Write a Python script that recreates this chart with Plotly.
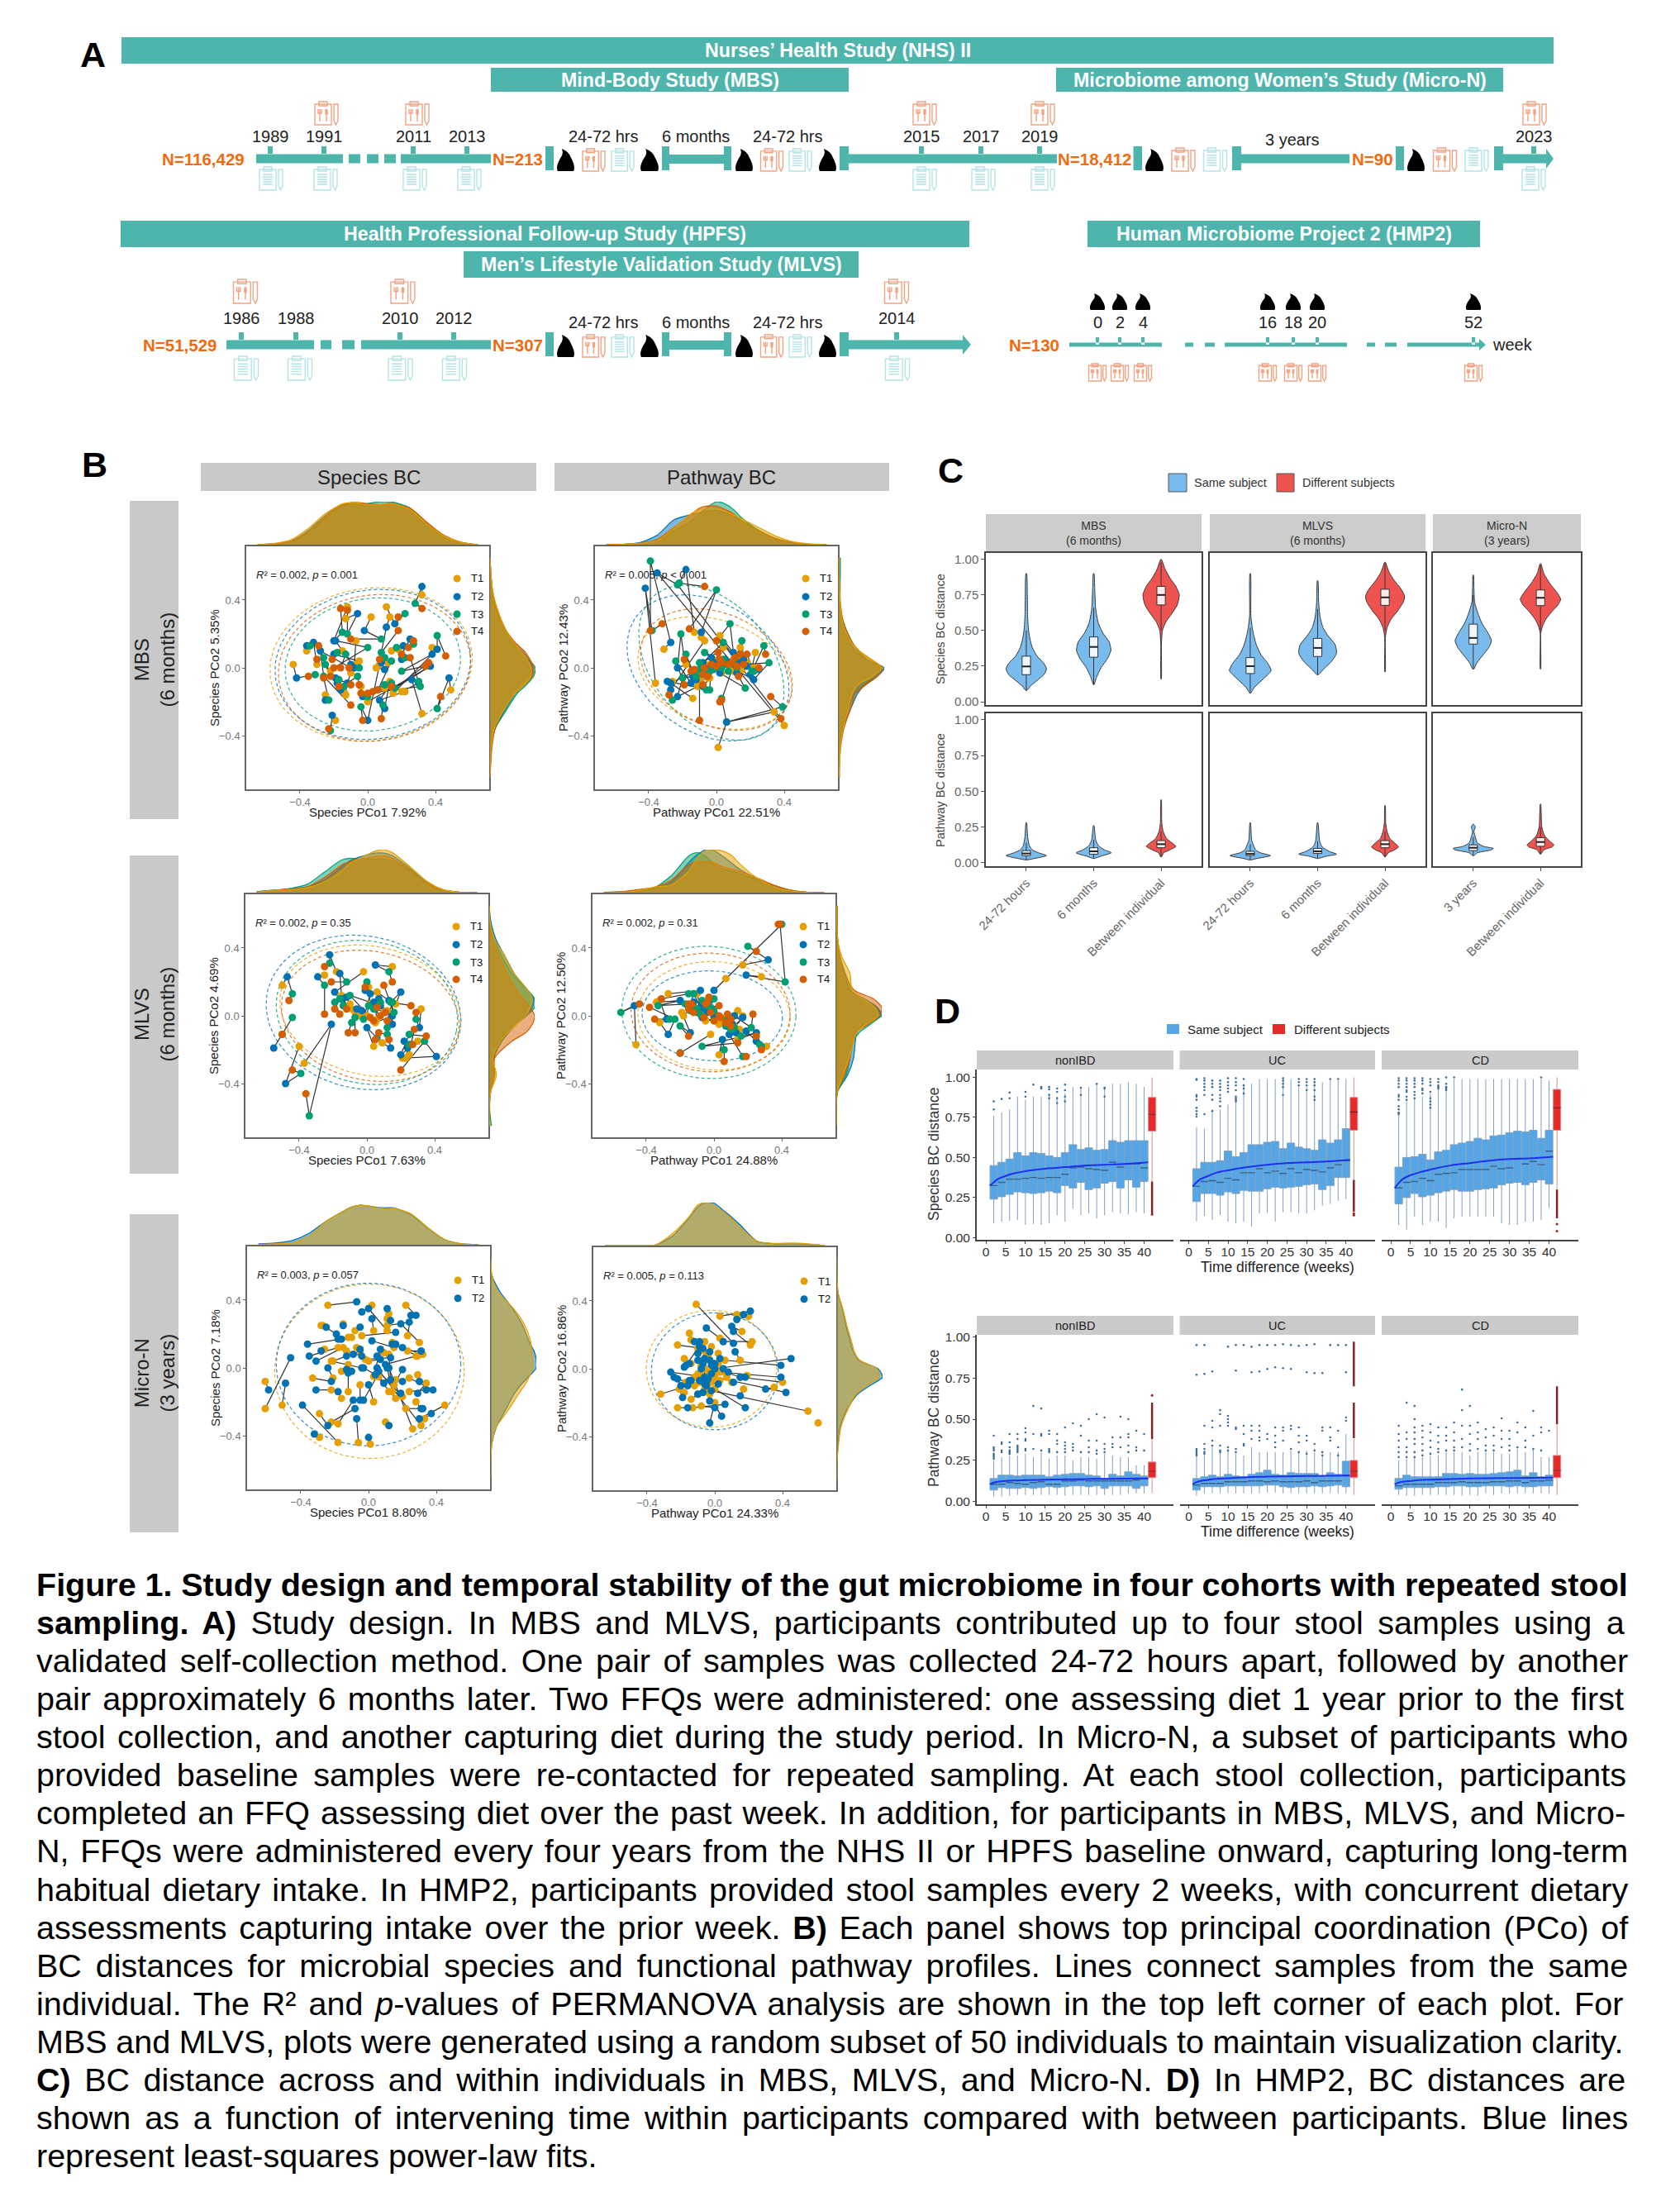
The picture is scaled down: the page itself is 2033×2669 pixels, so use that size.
import numpy as np
import plotly.graph_objects as go

W, H = 2033, 2669
FONT = "Liberation Sans"
TEAL = "#4DB5AC"
ORANGE_TXT = "#F26A0F"
ICON_OR = "#F2A382"
ICON_BL = "#B4E4E6"
TC = {"T1": "#E69F00", "T2": "#0072B2", "T3": "#009E73", "T4": "#D55E00"}
DRAW_ORDER = ["T2", "T3", "T4", "T1"]
LEG_BLUE = "#7ABBEE"
VIO_RED = "#EF5350"

# ---------------------------------------------------------------- panel B data
# one row per individual: x,y at T1, T2, T3, T4
MBS_SPECIES = [
 (-.44,.02,-.42,-.06,-.31,-.04,-.35,-.05),(-.36,.10,-.36,.13,-.34,.13,-.29,.13),(-.30,.02,-.32,.15,-.26,.06,-.30,.05),
 (-.25,-.16,-.25,-.19,-.23,-.19,-.26,-.06),(-.19,-.31,-.21,-.28,-.22,-.37,-.23,-.36),(-.12,.36,-.20,.16,-.15,.21,-.16,.35),
 (-.13,.29,-.06,.32,-.12,.20,-.12,.34),(.02,.30,-.02,.22,.08,.17,-.10,.17),(.11,.36,.16,.26,.22,.32,.18,.30),
 (.13,.30,.11,.24,.08,.09,.18,.22),(.38,.12,.41,.11,.41,.19,.46,.07),(.32,.43,.32,.48,.28,.38,.32,.35),
 (.32,-.27,.26,-.07,.30,-.08,.25,.06),(.49,-.13,.48,-.06,.41,-.24,.43,-.17),(-.07,.16,-.08,.0,-.13,.08,-.16,.0),
 (.05,.0,.10,-.01,.14,.04,.06,-.13),(.14,.10,.21,.13,.17,.12,.24,.12),(.20,.08,.25,.17,.27,.14,.27,.16),
 (.20,-.14,.30,-.09,.31,-.11,.00,-.15),(.13,-.08,.10,-.24,.09,-.22,.08,-.30),(-.14,-.14,-.18,-.09,-.17,-.07,-.10,-.10),
 (-.05,.04,-.20,.08,-.18,.09,-.21,.05),(-.15,.10,-.19,.16,.00,.12,-.20,.0),(.07,.02,.00,-.31,-.04,-.23,-.03,-.31),
 (.22,-.14,.07,-.19,.14,-.09,-.04,-.15),(.0,-.20,.37,.01,.16,-.12,.36,.03),(-.1,.0,-.28,.10,-.26,-.05,-.1,-.22),
 (.15,-.15,.38,.08,.2,-.02,.34,.01),
 (-.1,-.03,-.12,-.09,-.06,-.05,-.05,-.1),(-.04,-.11,-.03,-.17,.0,-.17,.03,-.14),(.1,-.12,.06,-.13,.1,-.1,.14,-.11),
 (-.07,.02,-.1,.02,-.05,.0,-.11,.0),(.18,.11,.2,.05,.22,.06,.2,.08),(.12,.03,.08,.03,.1,.06,.07,.05),
 (-.22,-.02,-.19,-.06,-.25,.02,-.22,-.05),(-.13,-.16,-.16,-.13,-.14,-.11,-.17,-.11),
]
MBS_PATHWAY = [
 (-.31,.11,-.27,.15,-.39,.63,-.39,.22),(-.36,-.09,-.42,.47,-.38,.22,-.32,.26),(-.13,.21,-.18,.58,-.22,.50,-.07,.48),
 (.40,-.34,-.35,.56,-.23,.49,.38,-.30),(.34,-.26,.06,-.32,.39,-.23,.32,-.17),(.01,-.47,.06,-.32,.03,-.18,.02,-.20),
 (-.09,.18,-.09,.21,.0,.46,-.16,.23),(-.07,.16,-.27,-.13,-.26,-.19,-.28,-.16),(-.14,-.18,-.27,-.09,-.1,-.01,-.10,-.31),
 (.02,.19,.1,.09,.08,.26,.0,.16),(.14,.12,.16,.05,.15,.16,.03,-.19),(.23,.09,.2,-.04,.28,.13,.29,.08),
 (.05,.02,.22,-.07,.31,.03,.16,.02),(-.18,.02,-.23,.0,-.21,.2,-.19,.05),(-.1,-.05,-.12,-.07,-.18,.08,-.15,-.02),
 (-.05,-.06,-.15,-.09,-.24,.04,-.19,-.1),(.0,.02,.0,.03,-.07,.09,.02,.05),(.08,-.01,.05,.05,.12,.0,.07,.02),
 (.13,.04,.13,.03,.07,-.02,.14,.08),(.18,.03,.18,.01,.22,-.02,.18,.08),(-.04,-.06,-.08,-.11,-.06,-.13,-.08,-.1),
 (.03,-.03,-.02,-.01,.04,.05,.0,.01),(-.12,-.03,-.06,-.04,-.04,-.02,-.13,-.01),(.1,-.02,.02,-.03,.17,-.12,.13,-.05),
 (.22,.0,.25,-.01,.21,-.02,.25,.0),(-.26,-.08,-.29,-.08,-.04,-.13,-.03,.02),(.04,.12,-.08,.03,.04,.15,.11,.06),
 (-.11,-.11,-.23,-.17,-.2,-.06,-.08,-.04),
 (-.06,.02,-.04,.0,-.1,.03,-.07,.0),(.02,-.02,.01,.02,.05,.02,.03,.03),(.1,.05,.08,.03,.03,.0,.09,.03),
 (-.09,-.09,-.14,-.05,-.12,-.05,-.05,-.05),(.15,-.01,.12,-.03,.1,.02,.12,.01),(-.02,.05,-.03,.06,-.01,.0,.01,.09),
]
MLVS_SPECIES = [
 (-.50,.18,-.47,.23,-.44,.13,-.46,.09),(-.50,-.11,-.55,-.19,-.44,-.01,-.5,-.11),(-.40,-.18,-.48,-.40,-.39,-.34,-.44,-.32),
 (-.37,-.28,-.21,-.05,-.34,-.59,-.36,-.46),(-.25,.24,-.29,.23,-.25,.18,-.25,.01),(-.18,.26,-.22,.36,-.22,.31,-.25,.29),
 (-.15,.12,-.16,.25,-.12,.2,-.21,.2),(-.02,.26,-.19,.14,-.16,.1,-.19,.04),(.15,.29,.05,.30,.13,.26,.15,.2),
 (.01,.17,-.01,.15,0,.2,-.01,.17),(.06,.14,.13,.09,.16,.02,.1,.18),(.17,.07,.2,.14,.14,.08,.26,.06),
 (.32,.04,.31,-.07,.29,-.02,.29,.02),(.3,-.15,.2,-.23,.25,-.11,.35,-.12),(.21,-.25,.41,-.24,.34,-.15,.2,-.32),
 (.25,-.23,.22,-.15,.25,-.17,.27,-.17),(.23,-.25,.24,-.19,.26,-.17,.28,-.08),(.05,-.04,.15,0,.12,-.11,.07,-.1),
 (.09,-.16,.14,-.19,.12,-.07,.13,-.14),(.04,-.18,.0,-.07,.06,-.13,.05,-.14),(-.09,.04,-.06,.04,-.09,-.04,-.11,-.1),
 (-.04,.0,-.03,.03,-.07,-.01,-.07,-.1),(.0,.0,.02,.13,-.02,-.02,.02,-.01),(.06,-.02,.05,.04,.01,.06,.11,.02),
 (.13,-.04,.15,-.05,.15,.08,.12,-.03),(-.07,.02,-.15,.1,-.19,.08,-.16,.01),(.12,.03,.08,.06,-.1,.12,.04,-.03),
 (-.1,.07,-.12,.11,-.14,.06,-.12,.04),(.02,.07,.04,.08,.08,.08,.06,.05),(.1,.02,.07,.1,.04,.04,.08,.0),
]
MLVS_PATHWAY = [
 (-.46,-.17,-.47,.06,-.55,.02,-.44,.07),(-.32,.09,-.28,-.02,-.26,-.02,-.35,-.02),(-.32,-.04,-.27,-.11,-.23,-.02,-.38,.05),
 (.17,.30,.32,.33,.2,.41,.25,.38),(.28,.23,.19,.24,.42,.2,.39,.54),(.07,.22,0,.15,.4,.54,.38,.54),
 (-.27,.13,-.08,.15,-.15,.13,-.31,.1),(-.34,.08,-.2,.09,-.33,.06,-.15,.07),(-.19,.02,-.14,-.1,-.2,-.06,-.15,-.12),
 (-.02,-.11,-.2,-.22,-.2,-.22,-.2,-.22),(.03,-.23,.05,-.14,.06,-.2,.06,-.27),(.08,-.06,.09,-.11,.17,-.24,.19,-.24),
 (.14,-.14,.25,-.1,-.07,-.18,.14,-.16),(.31,-.18,.25,-.15,.28,-.18,.28,-.2),(.28,-.18,.19,-.09,.27,-.17,.25,-.12),
 (.14,.03,.12,.0,.22,-.07,.23,.01),(.17,.0,.09,-.03,.07,-.05,.1,-.02),(-.1,.13,-.08,.05,-.12,.13,-.15,.04),
 (-.03,.06,-.04,.02,0,.1,-.03,.11),(.0,.0,.02,.0,-.02,.05,.03,.06),(-.05,-.02,-.08,.03,.0,.03,-.06,-.01),
 (.05,-.02,.0,-.01,.08,-.02,.04,-.01),(.09,-.07,-.07,-.01,.07,-.05,.03,.0),(-.18,0,-.14,.04,-.17,.07,-.13,.07),
 (.01,-.03,.11,-.05,-.1,.04,-.05,.07),(.12,-.06,.17,-.01,.12,-.07,.08,.01),(-.05,-.03,-.03,.09,-.07,.09,.0,-.03),
 (-.12,.05,-.1,.02,-.08,.01,-.04,.08),
 (-.02,.02,-.06,.04,-.04,.06,-.02,.02),(.03,-.05,.07,-.06,.1,-.08,.07,-.04),(-.14,.06,-.12,.08,-.14,.03,-.12,.02),(.15,-.08,.13,-.1,.16,-.12,.1,-.06),
]
MICRO_SPECIES = [
 (-.61,-.08,-.59,-.13),(-.61,-.24,-.46,.06),(-.51,-.22,-.49,-.09),(-.24,.37,-.07,.39),(.02,.37,-.04,.33),(-.28,.25,-.25,.24),
 (-.15,.26,-.15,.25),(-.27,.25,-.19,.2),(.12,.32,.11,.35),(.11,.29,.13,.28),(.22,.37,.28,.31),(.11,.25,.24,.27),
 (.11,.22,.0,.35),(.03,.22,.02,.29),(-.08,.22,-.05,.24),(.23,.19,.25,.31),(.3,.15,.19,.26),(-.04,.19,.16,.21),
 (-.12,.18,-.18,.17),(-.17,.17,-.16,.17),(-.1,.18,-.36,.14),(.14,.15,.16,.14),(.15,.12,.02,.16),(.23,.1,.31,.1),
 (.29,.07,.14,.14),(.32,.08,.2,.12),(-.26,.11,-.28,.1),(-.18,.12,-.35,.07),(-.15,.12,-.31,.04),(-.07,.12,-.05,.11),
 (-.21,.04,-.13,.07),(.03,-.05,.07,.11),(-.02,.05,.13,.06),(.28,.07,.1,.02),(.29,-.04,.3,-.08),(.34,-.09,.29,-.15),
 (.24,-.06,.38,-.13),(.24,-.14,.34,-.13),(.15,-.1,.2,-.01),(.12,-.14,.19,-.15),(.16,-.18,.04,-.04),(.2,-.17,.06,-.02),
 (.14,-.14,.11,.0),(.28,-.2,.31,-.24),(.22,-.24,.32,-.24),(.33,-.3,.37,-.27),(.45,-.22,.3,-.3),(.31,-.34,.05,-.0),
 (.26,-.36,.12,.0),(.1,-.32,.12,-.34),(.03,-.2,.0,-.1),(-.05,-.1,-.05,-.19),(.01,-.45,.0,-.41),(-.06,-.44,-.07,-.3),
 (-.18,-.44,-.39,-.22),(-.29,-.41,-.32,-.39),(-.29,-.27,-.24,-.34),(-.22,-.32,-.08,-.24),(-.18,-.33,-.09,-.19),
 (-.16,-.18,-.18,-.14),(-.22,-.13,-.31,-.13),(-.33,-.06,-.22,-.08),(-.12,-.14,-.12,-.03),(-.16,-.02,-.13,-.01),
 (.05,-.05,-.03,-.19),(-.22,.04,-.04,-.0),
 (-.13,.1,-.04,.07),(-.05,.1,-.09,.08),(.0,.04,.07,.05),(.06,-.05,-.03,.0),(.12,.08,.13,-.07),(-.12,.02,-.1,-.02),
 (.05,-.03,.09,-.09),(.16,-.07,.2,-.08),(-.21,-.06,-.24,.0),(.09,.09,.05,.07),
]
MICRO_PATHWAY = [
 (.61,-.32,None,None),(.55,-.25,-.02,-.13),(.0,.0,.45,.06),(.06,.05,.39,.02),(.03,-.02,.39,-.05),(.0,-.05,.42,-.14),
 (.4,-.08,.15,-.05),(.35,-.11,.3,-.12),(-.11,.38,.11,.15),(.03,.31,.21,.34),(.13,.32,.17,.32),(.2,.31,.13,.29),
 (.16,.22,.1,.25),(.21,.14,.11,.22),(.22,.16,.05,.16),(.03,.18,-.05,.24),(-.15,.21,-.12,.16),(-.14,.17,-.09,.16),
 (-.22,.14,-.07,.12),(-.18,.06,-.15,.03),(-.1,.12,-.17,.02),(-.04,.08,-.03,.1),(-.03,.05,-.07,.03),(.02,.09,.03,.06),
 (.15,.05,.12,.1),(-.32,-.15,-.16,-.1),(-.21,-.12,-.19,-.17),(-.18,-.14,-.22,-.06),(-.14,-.18,-.1,-.15),(-.22,-.23,-.16,-.23),
 (-.13,-.23,.06,-.21),(-.08,-.22,.0,-.23),(-.03,-.15,-.03,-.19),(-.06,-.12,.04,-.28),(.0,-.2,-.03,-.32),(.17,-.12,.15,-.16),
 (.0,-.12,.18,-.23),(.1,-.08,.11,-.08),(.07,-.05,.08,-.02),(.19,-.04,.18,-.05),(.15,-.05,.0,-.0),(-.12,-.1,-.24,-.05),
 (-.05,-.05,-.26,-.02),(-.08,-.04,-.09,-.07),(-.06,.0,-.06,-.05),(-.1,-.03,-.04,-.06),(-.03,-.02,-.14,-.07),(.0,-.04,-.05,-.08),
 (-.01,.03,-.02,.02),(-.07,.05,-.08,.0),
 (-.08,.02,-.1,.05),(-.05,.08,-.03,.05),(-.12,-.05,-.15,-.07),(-.02,-.08,-.02,-.03),(-.09,-.08,-.06,-.09),(.02,.03,.0,.03),
 (.06,-.02,.05,.0),(-.04,-.12,-.05,-.1),(-.14,.03,-.18,.01),(-.07,.11,-.1,.09),(.03,-.07,.02,-.09),(-.02,.13,-.06,.06),
 (-.06,.16,-.09,.13),(-.17,-.08,-.2,-.1),(-.1,-.15,-.07,-.14),
]
# ellipses: centre x, centre y, semi axes, tilt in degrees
ELL_MBS_SP = {"T1":(.02,.02,.6,.45,8),"T2":(.03,.02,.58,.44,8),"T3":(.03,.02,.52,.39,8),"T4":(.04,.0,.57,.43,8)}
ELL_MBS_PW = {"T1":(-.01,-.03,.47,.31,-20),"T2":(-.05,.0,.52,.38,-35),"T3":(-.03,.03,.52,.35,-50),"T4":(.0,-.01,.47,.33,-25)}
ELL_MLVS_SP = {"T1":(.02,.03,.54,.38,-12),"T2":(-.02,.02,.58,.45,-12),"T3":(.0,.02,.54,.42,-12),"T4":(.02,.0,.53,.38,-12)}
ELL_MLVS_PW = {"T1":(.0,.0,.45,.32,-3),"T2":(-.01,.0,.415,.265,-3),"T3":(-.03,.02,.515,.39,-3),"T4":(-.02,.02,.47,.35,-3)}
ELL_MICRO_SP = {"T1":(.005,-.02,.56,.515,0),"T2":(.0,.02,.545,.48,0)}
ELL_MICRO_PW = {"T1":(-.02,.0,.385,.345,0),"T2":(.0,-.015,.375,.345,0)}

GRID = [-.65,-.55,-.45,-.35,-.25,-.15,-.1,-.05,0,.05,.1,.15,.25,.35,.45,.55,.65]
TOP_MBS_SP = {"T1":[0,.03,.12,.38,.72,.95,.98,.96,.92,.92,.95,.96,.82,.48,.2,.05,0],
 "T2":[0,.02,.09,.33,.68,.93,.97,.95,.90,.91,.95,.97,.85,.5,.2,.05,0],
 "T3":[0,.01,.07,.28,.62,.9,.95,.95,.96,.99,1.0,.99,.85,.48,.17,.03,0],
 "T4":[0,.02,.08,.3,.65,.92,.98,.98,.95,.94,.93,.93,.85,.52,.22,.06,0]}
RIGHT_MBS_SP = {"T1":[0,.01,.03,.1,.3,.55,.75,.9,.9,.82,.68,.52,.3,.16,.06,.02,0],
 "T2":[0,.01,.03,.12,.33,.56,.75,.92,.95,.85,.7,.52,.3,.15,.05,.02,0],
 "T3":[0,.01,.03,.13,.36,.6,.8,.96,1.0,.85,.66,.48,.27,.13,.05,.01,0],
 "T4":[0,.02,.05,.12,.3,.55,.76,.93,.96,.88,.75,.55,.28,.14,.06,.02,0]}
TOP_MBS_PW = {"T1":[0,.01,.03,.1,.38,.72,.82,.85,.83,.78,.7,.6,.4,.2,.07,.02,0],
 "T2":[0,.01,.05,.22,.58,.7,.74,.78,.8,.75,.66,.55,.33,.14,.05,.01,0],
 "T3":[0,0,.03,.12,.33,.55,.72,.88,1.0,.95,.82,.62,.33,.14,.05,.01,0],
 "T4":[0,.01,.03,.12,.4,.7,.85,.9,.9,.82,.72,.55,.32,.15,.05,.01,0]}
RIGHT_MBS_PW = {"T1":[0,.02,.04,.1,.2,.3,.42,.75,.95,.72,.45,.28,.1,.04,.02,.01,.01],
 "T2":[.01,.01,.03,.09,.25,.42,.58,.85,1.0,.6,.36,.25,.1,.03,.03,.03,.03],
 "T3":[.01,.01,.03,.08,.2,.36,.55,.8,.95,.62,.42,.3,.13,.03,.02,.03,.03],
 "T4":[.01,.02,.05,.12,.25,.38,.6,.85,.96,.7,.45,.3,.12,.05,.02,.01,.01]}
TOP_MLVS_SP = {"T1":[.01,.05,.07,.12,.25,.5,.68,.78,.88,.97,1.0,.93,.62,.28,.07,.01,0],
 "T2":[.02,.06,.09,.14,.3,.6,.74,.82,.88,.92,.92,.86,.58,.25,.07,.01,0],
 "T3":[.02,.05,.1,.2,.48,.76,.8,.78,.78,.78,.78,.74,.52,.22,.05,.01,0],
 "T4":[.01,.05,.08,.14,.35,.64,.72,.78,.8,.84,.86,.8,.55,.24,.06,.01,0]}
RIGHT_MLVS_SP = {"T1":[.01,0,.03,.16,.08,.25,.4,.6,.8,.9,.95,.85,.55,.35,.12,.02,0],
 "T2":[0,0,.03,.12,.1,.24,.36,.55,.78,.95,.98,.85,.55,.35,.15,.04,0],
 "T3":[.05,.01,.03,.1,.1,.28,.42,.6,.82,1.0,1.0,.85,.5,.28,.12,.02,0],
 "T4":[.01,0,.02,.12,.12,.5,.8,.95,1.0,.9,.75,.6,.4,.22,.08,.01,0]}
TOP_MLVS_PW = {"T1":[0,.01,.04,.13,.18,.5,.8,.98,1.0,.97,.88,.68,.35,.14,.04,.01,0],
 "T2":[0,.01,.03,.1,.25,.7,.88,1.0,.98,.85,.7,.55,.33,.13,.03,.01,0],
 "T3":[.01,.02,.04,.12,.4,.85,.93,.85,.65,.55,.5,.45,.3,.17,.06,.01,0],
 "T4":[0,.02,.07,.13,.3,.65,.72,.72,.7,.6,.55,.5,.35,.18,.06,.01,0]}
RIGHT_MLVS_PW = {"T1":[0,0,.02,.15,.28,.38,.45,.65,.92,.85,.6,.35,.3,.12,.03,.01,.01],
 "T2":[0,0,.02,.25,.38,.42,.45,.6,1.0,.9,.62,.3,.18,.08,.03,.01,.01],
 "T3":[0,0,.03,.22,.3,.38,.5,.75,.98,.88,.6,.35,.2,.08,.03,.02,.02],
 "T4":[0,0,.02,.18,.3,.35,.42,.7,.95,1.0,.82,.4,.18,.08,.03,.02,.02]}
TOP_MICRO_SP = {"T1":[.01,.02,.04,.2,.55,.78,.88,.92,.9,.86,.84,.85,.72,.4,.12,.02,0],
 "T2":[.02,.04,.1,.27,.55,.78,.88,.92,.9,.87,.86,.86,.7,.38,.12,.02,0]}
RIGHT_MICRO_SP = {"T1":[0,0,.02,.12,.38,.62,.75,.85,.92,.92,.9,.88,.75,.5,.15,.02,0],
 "T2":[0,0,.02,.12,.32,.52,.66,.84,1.0,1.0,.95,.85,.7,.48,.2,.02,0]}
TOP_MICRO_PW = {"T1":[0,0,0,.02,.28,.68,.95,1.0,.92,.78,.62,.42,.1,.05,.06,.04,0],
 "T2":[0,0,0,.01,.22,.65,.9,1.0,.98,.82,.66,.48,.1,.04,.04,.03,0]}
RIGHT_MICRO_PW = {"T1":[0,0,.03,.08,.22,.42,.65,.92,.88,.5,.38,.33,.22,.13,.02,0,0],
 "T2":[0,0,.02,.06,.2,.45,.72,1.0,.9,.48,.36,.3,.2,.12,.02,0,0]}

# ---------------------------------------------------------------- panel C data
CAT_THREE = ["24-72 hours", "6 months", "Between individual"]
CAT_TWO = ["3 years", "Between individual"]
C_FACETS = ["MBS<br>(6 months)", "MLVS<br>(6 months)", "Micro-N<br>(3 years)"]
# violin outlines: distance, half width
V_SP = [
 [[(.08,.01),(.11,.06),(.15,.16),(.19,.26),(.23,.30),(.27,.26),(.32,.16),(.38,.09),(.45,.05),(.52,.03),(.6,.02),(.75,.015),(.90,.005)],
  [(.12,.005),(.17,.04),(.24,.11),(.3,.2),(.36,.255),(.42,.23),(.48,.14),(.55,.07),(.65,.03),(.8,.015),(.9,.005)],
  [(.16,.003),(.4,.005),(.5,.02),(.56,.07),(.62,.16),(.68,.24),(.75,.27),(.81,.22),(.87,.13),(.93,.06),(1.0,.005)]],
 [[(.06,.005),(.1,.06),(.15,.17),(.2,.28),(.22,.31),(.27,.26),(.33,.16),(.4,.09),(.47,.05),(.52,.03),(.6,.01),(.9,.004)],
  [(.19,.01),(.23,.09),(.28,.2),(.34,.28),(.4,.26),(.46,.16),(.52,.08),(.6,.035),(.7,.015),(.85,.004)],
  [(.21,.003),(.45,.005),(.52,.03),(.58,.09),(.64,.19),(.7,.27),(.74,.29),(.79,.24),(.85,.14),(.91,.06),(.98,.005)]],
 [[(.23,.01),(.27,.05),(.32,.13),(.38,.23),(.43,.27),(.49,.21),(.55,.13),(.62,.07),(.7,.02),(.8,.01),(.89,.004)],
  [(.23,.003),(.48,.005),(.53,.03),(.58,.08),(.64,.18),(.68,.26),(.72,.30),(.77,.24),(.83,.14),(.9,.05),(.97,.005)]],
]
V_PW = [
 [[(.02,.01),(.03,.12),(.05,.30),(.07,.18),(.09,.09),(.12,.045),(.18,.02),(.28,.004)],
  [(.03,.01),(.045,.1),(.07,.26),(.09,.16),(.12,.07),(.16,.03),(.26,.004)],
  [(.04,.003),(.07,.04),(.09,.13),(.115,.22),(.14,.16),(.17,.08),(.22,.03),(.28,.01),(.44,.003)]],
 [[(.02,.01),(.03,.1),(.05,.30),(.07,.15),(.09,.08),(.12,.05),(.16,.02),(.28,.004)],
  [(.03,.01),(.045,.12),(.06,.28),(.08,.17),(.11,.07),(.15,.03),(.28,.004)],
  [(.04,.003),(.07,.05),(.09,.14),(.11,.2),(.14,.14),(.17,.07),(.22,.03),(.28,.01),(.4,.003)]],
 [[(.05,.01),(.07,.06),(.09,.27),(.1,.30),(.115,.15),(.14,.06),(.18,.03),(.22,.01),(.25,.03),(.27,.004)],
  [(.06,.005),(.09,.05),(.11,.17),(.125,.2),(.15,.14),(.19,.06),(.25,.02),(.41,.003)]],
]
# boxes: q1, median, q3, low, high
B_SP = [[(.19,.248,.32,.08,.50),(.313,.385,.455,.12,.66),(.68,.75,.81,.50,.98)],
        [(.198,.25,.31,.06,.52),(.318,.378,.445,.19,.65),(.677,.733,.79,.50,.97)],
        [(.405,.448,.545,.23,.75),(.675,.73,.785,.50,.96)]]
B_PW = [[(.05,.065,.085,.02,.14),(.06,.08,.105,.03,.16),(.105,.13,.155,.04,.22)],
        [(.05,.062,.08,.02,.13),(.065,.08,.10,.03,.15),(.105,.13,.155,.04,.22)],
        [(.085,.105,.125,.05,.18),(.115,.145,.175,.06,.25)]]

# ---------------------------------------------------------------- panel D data
WEEKS = list(range(2, 42, 2))
FIT_WEEKS = [1,2,3,5,7,10,15,20,25,30,35,41]
D_FACETS = ["nonIBD", "UC", "CD"]
D_SP_FIT = [[.325,.345,.365,.385,.40,.415,.43,.44,.45,.455,.46,.47],
            [.32,.345,.365,.385,.405,.42,.44,.455,.465,.47,.475,.485],
            [.31,.34,.365,.39,.405,.425,.45,.465,.48,.49,.495,.505]]
D_PW_FIT = [[.105,.115,.12,.125,.128,.13,.133,.135,.137,.138,.139,.14],
            [.105,.118,.125,.132,.138,.142,.148,.151,.153,.155,.156,.158],
            [.105,.115,.12,.125,.13,.133,.137,.14,.142,.143,.144,.145]]
D_SP_Q3 = [[.45,.47,.49,.53,.51,.53,.525,.51,.50,.53,.58,.55,.56,.545,.55,.605,.595,.605,.605,.605],
           [.43,.47,.47,.48,.54,.505,.53,.58,.58,.595,.60,.555,.59,.565,.555,.545,.61,.59,.61,.68],
           [.44,.50,.505,.52,.485,.535,.545,.58,.59,.60,.62,.61,.635,.64,.655,.665,.66,.67,.62,.67]]
D_SP_MED = [[.325,.345,.365,.365,.37,.375,.37,.375,.375,.395,.435,.44,.43,.425,.42,.47,.44,.46,.46,.435],
            [.32,.35,.355,.345,.37,.36,.405,.405,.43,.405,.415,.40,.43,.405,.425,.42,.41,.435,.455,.48],
            [.31,.345,.35,.37,.355,.395,.40,.405,.425,.425,.425,.425,.445,.43,.435,.49,.46,.475,.455,.54]]
D_SP_Q1 = [[.24,.255,.27,.285,.28,.275,.28,.29,.28,.325,.31,.345,.30,.31,.34,.35,.31,.36,.315,.35],
           [.225,.275,.275,.265,.285,.275,.295,.29,.29,.305,.315,.31,.315,.32,.33,.335,.30,.325,.375,.375],
           [.21,.25,.275,.255,.265,.28,.29,.30,.29,.29,.30,.305,.31,.33,.34,.345,.33,.345,.36,.335]]
D_SP_LO = [[.09,.10,.105,.11,.08,.085,.08,.09,.14,.10,.18,.14,.15,.12,.14,.16,.15,.145,.16,.15],
           [.10,.135,.11,.14,.10,.09,.10,.07,.15,.155,.10,.16,.16,.15,.15,.17,.20,.21,.23,.24],
           [.08,.05,.13,.08,.10,.10,.06,.12,.13,.13,.13,.13,.13,.09,.08,.08,.10,.10,.11,.185]]
D_SP_HI = [[.76,.78,.80,.88,.86,.88,.88,.90,.88,.90,.94,.94,.94,.96,.94,.96,.96,.97,.96,.94],
           [.69,.68,.80,.80,.83,.85,.96,.96,.99,.99,.99,.99,.99,.94,.94,.98,.97,.98,.98,.99],
           [.78,.85,.87,.88,.90,.93,.94,.99,.99,.99,.99,.99,.99,.99,.99,.99,.99,.99,.99,.98]]
D_SP_RED = [(.665,.77,.875,.35,1.0),(.67,.785,.875,.36,1.0),(.67,.81,.925,.30,1.0)]
D_SP_RED_BAND = [[(.15,.35)],[(.16,.36)],[(.12,.30)]]
D_SP_RED_PTS = [[.145],[.14,.15],[.085,.04]]
D_SP_OUT = [
 {2:[.85,.80],4:[.865],6:[.905,.87],10:[.91,.88],12:[.955],14:[.94,.93],16:[.94,.925,.89,.87],18:[.93,.91,.87,.84],20:[.955,.92,.88,.85],24:[.935,.89],28:[.96],30:[.935,.93,.88]},
 {2:[.99,.985,.89,.88,.86,.81,.79,.77,.755],4:[.995,.98,.96,.94,.92,.89,.77],6:[.98,.96,.94,.89,.86,.79],8:[.98,.96,.94,.92,.89,.87,.85,.82],10:[.995,.97,.95,.93,.91],12:[.995,.97,.95,.92,.88,.87,.86,.85],14:[.99,.95,.93,.90],24:[.995,.98,.96,.94,.89],28:[.99,.97,.95],30:[.99,.97,.95,.92],32:[.99,.97,.95,.92,.88,.86],36:[.99],38:[.99]},
 {2:[.995,.98,.96,.94,.89,.88,.86,.82,.80,.78,.77],4:[.995,.98,.96,.94,.92,.91,.88,.86],6:[.995,.98,.96,.94,.91,.89,.87],8:[.995,.98,.96,.93,.92,.90],10:[.99,.97,.95,.91,.87,.85,.83,.81],12:[.99,.97,.95,.94,.93],14:[1.0,.96,.94,.93,.92],16:[1.0],38:[1.0]},
]
D_PW_Q3 = [[.14,.16,.16,.155,.16,.16,.16,.15,.16,.165,.17,.17,.16,.155,.14,.165,.155,.18,.165,.155],
           [.14,.15,.16,.15,.165,.155,.15,.165,.175,.19,.165,.16,.175,.17,.17,.17,.155,.175,.165,.245],
           [.14,.16,.15,.15,.15,.15,.17,.17,.165,.17,.165,.165,.17,.175,.18,.19,.155,.175,.15,.16]]
D_PW_MED = [[.105,.105,.115,.11,.105,.115,.12,.105,.105,.125,.125,.13,.125,.125,.125,.125,.125,.125,.13,.14],
            [.10,.11,.11,.11,.12,.12,.12,.125,.125,.12,.125,.12,.12,.12,.125,.115,.125,.125,.125,.16],
            [.095,.105,.105,.105,.105,.115,.115,.115,.12,.115,.115,.115,.12,.12,.125,.125,.115,.125,.125,.13]]
D_PW_Q1 = [[.07,.085,.08,.08,.085,.08,.085,.09,.085,.09,.095,.095,.09,.095,.08,.095,.095,.095,.08,.095],
           [.07,.09,.09,.09,.095,.095,.095,.095,.095,.10,.10,.09,.085,.09,.09,.095,.09,.095,.10,.09],
           [.075,.085,.085,.085,.085,.09,.09,.095,.095,.09,.09,.095,.095,.095,.09,.095,.09,.09,.095,.095]]
D_PW_LO = [[.03,.03,.035,.04,.04,.04,.04,.04,.04,.035,.04,.04,.04,.04,.04,.04,.04,.05,.05,.05],
           [.035,.05,.05,.05,.05,.05,.05,.05,.05,.055,.055,.05,.05,.05,.05,.05,.05,.05,.05,.05],
           [.04,.035,.035,.04,.04,.04,.04,.04,.035,.04,.035,.05,.04,.05,.05,.05,.05,.05,.05,.05]]
D_PW_HI = [[.25,.27,.28,.28,.29,.27,.30,.26,.28,.28,.25,.27,.27,.26,.29,.28,.27,.27,.22,.22],
           [.31,.31,.33,.31,.31,.29,.28,.33,.30,.30,.30,.30,.31,.30,.31,.30,.28,.30,.30,.41],
           [.25,.26,.27,.27,.28,.28,.30,.30,.30,.28,.30,.30,.30,.29,.29,.32,.30,.32,.27,.27]]
D_PW_RED = [(.145,.185,.24,.05,.38),(.145,.185,.25,.04,.38),(.145,.19,.28,.04,.47)]
D_PW_RED_BAND = [[(.38,.60)],[(.385,.60),(.70,.97)],[(.47,.70)]]
D_PW_RED_PTS = [[.645],[],[]]
D_PW_OUT = [
 {2:[.40,.33,.32,.31,.29,.28,.27,.26],4:[.36,.35,.31,.3],6:[.41,.36,.33,.31,.3,.29],8:[.41,.38,.34,.33,.32,.31,.3],10:[.445,.42,.38,.37,.32,.31],12:[.58,.41,.32],14:[.565,.41,.4,.31],16:[.43,.41,.32,.31,.3],18:[.41,.37,.35,.3],20:[.45,.36,.34,.32,.3],22:[.475,.35,.33,.31],24:[.46,.4,.3],26:[.5,.37,.33,.3],28:[.53,.37,.31,.29],30:[.51,.35,.32,.3],32:[.39,.35,.33],34:[.515,.39,.33],36:[.5,.41,.39,.34,.3],38:[.43,.33,.31],40:[.41,.31]},
 {2:[.32,.31,.3,.29,.28,.77,.95],4:[.46,.35,.32,.3,.29,.775,.95],6:[.49,.45,.37,.34,.79],8:[.555,.53,.46,.34,.31,.3],10:[.52,.5,.48,.46,.33,.31,.94],12:[.45,.44,.32,.3,.795,.95],14:[.46,.41,.35,.34,.95],16:[.46,.43,.38,.785,.94],18:[.46,.43,.39,.37,.79,.95],20:[.41,.38,.805,.95],22:[.45,.4,.36,.33,.815,.95],24:[.45,.43,.37,.81,.955],26:[.46,.44,.32,.805,.95],28:[.45,.4,.36,.3,.945],30:[.4,.37,.29,.785,.95],32:[.35,.31,.78,.955],34:[.45,.43,.3,.28,.78],36:[.45,.39,.37,.95],38:[.43,.33,.28,.95],40:[.51,.49,.785,.95]},
 {2:[.46,.41,.37,.33,.3,.27],4:[.6,.42,.38,.33,.3,.27],6:[.58,.5,.45,.42,.38,.35,.3,.27],8:[.46,.43,.39,.35,.31,.28],10:[.47,.42,.37,.33,.29],12:[.45,.4,.36,.32,.3],14:[.45,.4,.37,.31],16:[.48,.42,.37,.33,.31],18:[.68,.555,.46,.38,.33],20:[.58,.46,.41,.35,.31],22:[.48,.42,.38,.32],24:[.44,.39,.34,.31],26:[.45,.4,.34,.31],28:[.505,.43,.38,.33],30:[.43,.38,.34,.31],32:[.48,.42,.33],34:[.45,.37,.33],36:[.55,.4,.32],38:[.45,.42,.31],40:[.43]},
]

# ---------------------------------------------------------------- caption
CAPTION = [
 [("Figure 1. Study design and temporal stability of the gut microbiome in four cohorts with repeated stool","b")],
 [("sampling. A) ","b"),("Study design. In MBS and MLVS, participants contributed up to four stool samples using a","n")],
 [("validated self-collection method. One pair of samples was collected 24-72 hours apart, followed by another","n")],
 [("pair approximately 6 months later. Two FFQs were administered: one assessing diet 1 year prior to the first","n")],
 [("stool collection, and another capturing diet during the study period. In Micro-N, a subset of participants who","n")],
 [("provided baseline samples were re-contacted for repeated sampling. At each stool collection, participants","n")],
 [("completed an FFQ assessing diet over the past week. In addition, for participants in MBS, MLVS, and Micro-","n")],
 [("N, FFQs were administered every four years from the NHS II or HPFS baseline onward, capturing long-term","n")],
 [("habitual dietary intake. In HMP2, participants provided stool samples every 2 weeks, with concurrent dietary","n")],
 [("assessments capturing intake over the prior week. ","n"),("B) ","b"),("Each panel shows top principal coordination (PCo) of","n")],
 [("BC distances for microbial species and functional pathway profiles. Lines connect samples from the same","n")],
 [("individual. The R\u00b2 and ","n"),("p","i"),("-values of PERMANOVA analysis are shown in the top left corner of each plot. For","n")],
 [("MBS and MLVS, plots were generated using a random subset of 50 individuals to maintain visualization clarity.","n")],
 [("C) ","b"),("BC distance across and within individuals in MBS, MLVS, and Micro-N. ","n"),("D) ","b"),("In HMP2, BC distances are","n")],
 [("shown as a function of intervening time within participants compared with between participants. Blue lines","n")],
 [("represent least-squares power-law fits.","n")],
]

# ---------------------------------------------------------------- helpers
traces, annos, shapes, axes = [], [], [], {}
n_ax = [1]

def new_axes(x0, x1, y0, y1, xr, yr, xopt=None, yopt=None):
    n_ax[0] += 1
    n = n_ax[0]
    base = dict(showgrid=False, zeroline=False, fixedrange=True, visible=False)
    ax = dict(base, domain=[x0/W, x1/W], range=xr, anchor=f"y{n}")
    ay = dict(base, domain=[1-y1/H, 1-y0/H], range=yr, anchor=f"x{n}")
    if xopt: ax.update(visible=True, **xopt)
    if yopt: ay.update(visible=True, **yopt)
    axes[f"xaxis{n}"] = ax
    axes[f"yaxis{n}"] = ay
    return f"x{n}", f"y{n}"

def text(x, y, s, size=15, color="#222", anchor="center", angle=0, bold=False, xref="x", yref="y", va="middle", align="center"):
    annos.append(dict(x=x, y=y, xref=xref, yref=yref, text=f"<b>{s}</b>" if bold else s, showarrow=False,
                      xanchor=anchor, yanchor=va, textangle=angle, align=align,
                      font=dict(family=FONT, size=size, color=color), borderpad=0, borderwidth=0))

def rgba(h, a):
    return f"rgba({int(h[1:3],16)},{int(h[3:5],16)},{int(h[5:7],16)},{a})"

def rect(x0, y0, x1, y1, color, line=None):
    shapes.append(dict(type="rect", xref="x", yref="y", x0=x0, x1=x1, y0=y0, y1=y1, fillcolor=color,
                       line=dict(width=0) if line is None else line, layer="below"))

# ---------------------------------------------------------------- panel B
BOX_STYLE = dict(showline=True, mirror=True, linecolor="#666", linewidth=1.5, ticks="outside", ticklen=3,
                 tickcolor="#666", tickfont=dict(family=FONT, size=13, color="#777"),
                 tickvals=[-.4, 0, .4], ticktext=["\u22120.4", "0.0", "0.4"])

def b_panel(x0, y0, rows, ell, top, right, r2, xt, yt, top_base=None):
    R = [-.717, .717]
    names = list(ell.keys())
    xa, ya = new_axes(x0, x0+294, y0, y0+294, R, R, BOX_STYLE, BOX_STYLE)
    t = np.linspace(0, 2*np.pi, 90)
    for k in names:
        cx, cy, a, b, th = ell[k]
        r = np.radians(th)
        ex = cx + a*np.cos(t)*np.cos(r) - b*np.sin(t)*np.sin(r)
        ey = cy + a*np.cos(t)*np.sin(r) + b*np.sin(t)*np.cos(r)
        traces.append(go.Scatter(x=ex, y=ey, mode="lines", xaxis=xa, yaxis=ya, line=dict(color=TC[k], width=1.2, dash="4px,3px"), opacity=.8, hoverinfo="skip"))
    lx, ly = [], []
    for row in rows:
        for i in range(len(names)):
            lx.append(row[2*i]); ly.append(row[2*i+1])
        lx.append(None); ly.append(None)
    traces.append(go.Scatter(x=lx, y=ly, mode="lines", xaxis=xa, yaxis=ya, line=dict(color="#333", width=1.2), connectgaps=False, hoverinfo="skip"))
    for i, k in enumerate(names):
        traces.append(go.Scatter(x=[r[2*i] for r in rows], y=[r[2*i+1] for r in rows], mode="markers", xaxis=xa, yaxis=ya,
                                 marker=dict(color=TC[k], size=9, line=dict(width=0)), hoverinfo="skip"))
    leg_y = [.527, .42, .317, .215] if len(names) == 4 else [.517, .411]
    traces.append(go.Scatter(x=[.527]*len(names), y=leg_y, mode="markers", xaxis=xa, yaxis=ya,
                             marker=dict(color=[TC[k] for k in names], size=9, line=dict(width=0)), hoverinfo="skip"))
    for k, yy in zip(names, leg_y):
        text(.648, yy, k, size=13, color="#111", xref=xa, yref=ya)
    text(-.66, .55, r2, size=13, color="#222", anchor="left", xref=xa, yref=ya)
    # marginal densities
    base = y0-2 if top_base is None else top_base
    xt_a, yt_a = new_axes(x0, x0+294, base-52, base, R, [0, 1])
    xr_a, yr_a = new_axes(x0+295, x0+295+55, y0, y0+294, [0, 1], R)
    for k in DRAW_ORDER:
        if k not in names: continue
        traces.append(go.Scatter(x=GRID, y=top[k], mode="lines", xaxis=xt_a, yaxis=yt_a, fill="tozeroy", fillcolor=rgba(TC[k], .5),
                                 line=dict(color=TC[k], width=1.2, shape="spline", smoothing=.7), hoverinfo="skip"))
        traces.append(go.Scatter(x=right[k], y=GRID, mode="lines", xaxis=xr_a, yaxis=yr_a, fill="tozerox", fillcolor=rgba(TC[k], .5),
                                 line=dict(color=TC[k], width=1.2, shape="spline", smoothing=.7), hoverinfo="skip"))
    # titles
    text(x0+147, y0+321, xt, size=15, color="#222")
    text(x0-39, y0+147, yt, size=15, color="#222", angle=-90)

def r2(a, b, op="="):
    return f"<i>R</i>\u00b2 = {a}, <i>p</i> {op} {b}"

rect(243, 560, 649, 594, "#C9C9C9"); rect(671, 560, 1076, 594, "#C9C9C9")
text(446, 577, "Species BC", size=24); text(873, 577, "Pathway BC", size=24)
for y0, y1, s in [(606, 991, "MBS<br>(6 months)"), (1035, 1420, "MLVS<br>(6 months)"), (1469, 1854, "Micro-N<br>(3 years)")]:
    rect(157, y0, 216, y1, "#C9C9C9")
    text(186, (y0+y1)/2, s, size=24, angle=-90)

b_panel(298, 661, MBS_SPECIES, ELL_MBS_SP, TOP_MBS_SP, RIGHT_MBS_SP, r2("0.002", "0.001"), "Species PCo1 7.92%", "Species PCo2 5.35%")
b_panel(720, 661, MBS_PATHWAY, ELL_MBS_PW, TOP_MBS_PW, RIGHT_MBS_PW, r2("0.005", "0.001", "&lt;"), "Pathway PCo1 22.51%", "Pathway PCo2 12.43%")
b_panel(297, 1082, MLVS_SPECIES, ELL_MLVS_SP, TOP_MLVS_SP, RIGHT_MLVS_SP, r2("0.002", "0.35"), "Species PCo1 7.63%", "Species PCo2 4.69%")
b_panel(717, 1082, MLVS_PATHWAY, ELL_MLVS_PW, TOP_MLVS_PW, RIGHT_MLVS_PW, r2("0.002", "0.31"), "Pathway PCo1 24.88%", "Pathway PCo2 12.50%")
b_panel(299, 1508, MICRO_SPECIES, ELL_MICRO_SP, TOP_MICRO_SP, RIGHT_MICRO_SP, r2("0.003", "0.057"), "Species PCo1 8.80%", "Species PCo2 7.18%")
b_panel(718, 1509, MICRO_PATHWAY, ELL_MICRO_PW, TOP_MICRO_PW, RIGHT_MICRO_PW, r2("0.005", "0.113"), "Pathway PCo1 24.33%", "Pathway PCo2 16.86%")

# ---------------------------------------------------------------- panel C
C_BOXES_X = [(1193, 1454), (1464, 1725), (1734, 1913)]
C_TICK = dict(showline=True, mirror=True, linecolor="#444", linewidth=1.5, tickfont=dict(family=FONT, size=15, color="#666"),
              ticks="outside", ticklen=4, tickcolor="#555")

def c_panel(col, y0, y1, yr, vios, boxes, first_col, bottom):
    x0, x1 = C_BOXES_X[col]
    cats = CAT_TWO if col == 2 else CAT_THREE
    n = len(cats)
    xo = dict(C_TICK)
    if bottom:
        xo.update(tickvals=list(range(1, n+1)), ticktext=cats, tickangle=-45)
    else:
        xo.update(ticks="", showticklabels=False)
    yo = dict(C_TICK)
    if first_col:
        yo.update(tickvals=[0, .25, .5, .75, 1], ticktext=["0.00", "0.25", "0.50", "0.75", "1.00"])
    else:
        yo.update(ticks="", showticklabels=False)
    xa, ya = new_axes(x0, x1, y0, y1, [.4, n+.6], yr, xo, yo)
    for i in range(n):
        pos = i+1
        red = i == n-1
        yy = [p[0] for p in vios[i]]
        hw = [p[1] for p in vios[i]]
        px = [pos-h for h in hw] + [pos+h for h in reversed(hw)] + [pos-hw[0]]
        py = yy + list(reversed(yy)) + [yy[0]]
        traces.append(go.Scatter(x=px, y=py, mode="lines", xaxis=xa, yaxis=ya, fill="toself", fillcolor=VIO_RED if red else LEG_BLUE,
                                 line=dict(color="#3a3a3a", width=1, shape="spline", smoothing=.6), hoverinfo="skip"))
        q1, med, q3, lo, hi = boxes[i]
        hb = .0625
        traces.append(go.Scatter(x=[pos, pos, None, pos, pos], y=[lo, q1, None, q3, hi], mode="lines", xaxis=xa, yaxis=ya,
                                 line=dict(color="#333", width=1), hoverinfo="skip"))
        traces.append(go.Scatter(x=[pos-hb, pos+hb, pos+hb, pos-hb, pos-hb], y=[q1, q1, q3, q3, q1], mode="lines", xaxis=xa, yaxis=ya,
                                 fill="toself", fillcolor="rgba(255,255,255,.88)", line=dict(color="#333", width=1), hoverinfo="skip"))
        traces.append(go.Scatter(x=[pos-hb, pos+hb], y=[med, med], mode="lines", xaxis=xa, yaxis=ya,
                                 line=dict(color="#222", width=2), hoverinfo="skip"))

for c in range(3):
    c_panel(c, 669, 853, [-.023, 1.045], V_SP[c], B_SP[c], c == 0, False)
    c_panel(c, 863, 1048, [-.024, 1.045], V_PW[c], B_PW[c], c == 0, True)
    rect(C_BOXES_X[c][0], 622, C_BOXES_X[c][1], 667, "#CCCCCC")
    text(sum(C_BOXES_X[c])/2, 645, C_FACETS[c], size=14, color="#333")
text(1138, 761, "Species BC distance", size=14.5, color="#444", angle=-90)
text(1138, 956, "Pathway BC distance", size=14.5, color="#444", angle=-90)
rect(1414, 573, 1436, 595, LEG_BLUE, dict(color="#555", width=1))
rect(1545, 573, 1566, 595, VIO_RED, dict(color="#555", width=1))
text(1445, 584, "Same subject", size=14.5, color="#333", anchor="left")
text(1576, 584, "Different subjects", size=14.5, color="#333", anchor="left")

# ---------------------------------------------------------------- panel D
D_X = [(1182, 1420), (1427.5, 1664), (1672, 1910)]
D_TICK = dict(showline=True, linecolor="#444", linewidth=2, tickfont=dict(family=FONT, size=15.5, color="#333"),
              ticks="outside", ticklen=3)

def d_row(y0, y1, yr, q1s, meds, q3s, los, his, red, band, redpts, outs, fits, strip_y):
    for c in range(3):
        x0, x1 = D_X[c]
        xo = dict(D_TICK, tickvals=list(range(0, 45, 5))[:9], ticktext=[str(v) for v in range(0, 45, 5)][:9], ticklabelstandoff=-3, tickcolor="#444")
        yo = dict(D_TICK, tickvals=[0, .25, .5, .75, 1], ticktext=["0.00", "0.25", "0.50", "0.75", "1.00"], tickcolor="#444")
        if c > 0:
            yo.update(showline=False, ticks="", showticklabels=False)
        xa, ya = new_axes(x0, x1, y0, y1, [-2.3, 47.4], yr, xo, yo)
        ox = [w for w, v in outs[c].items() for _ in v]
        oy = [u for v in outs[c].values() for u in v]
        traces.append(go.Scatter(x=ox, y=oy, mode="markers", xaxis=xa, yaxis=ya, marker=dict(color="#3F6E98", size=2.6), hoverinfo="skip"))
        traces.append(go.Box(x=WEEKS, q1=q1s[c], median=meds[c], q3=q3s[c], lowerfence=los[c], upperfence=his[c], xaxis=xa, yaxis=ya,
                             width=1.9, whiskerwidth=0, boxpoints=False, fillcolor="#55A6E6", line=dict(color="#7F9FC0", width=1), hoverinfo="skip"))
        mx, my = [], []
        for w, m in zip(WEEKS, meds[c]):
            mx += [w-.95, w+.95, None]; my += [m, m, None]
        traces.append(go.Scatter(x=mx, y=my, mode="lines", xaxis=xa, yaxis=ya, line=dict(color="#35658F", width=1.4), hoverinfo="skip"))
        q1, med, q3, lo, hi = red[c]
        traces.append(go.Box(x=[42], q1=[q1], median=[med], q3=[q3], lowerfence=[lo], upperfence=[hi], xaxis=xa, yaxis=ya,
                             width=1.9, whiskerwidth=0, boxpoints=False, fillcolor="#E62A2A", line=dict(color="#D79090", width=1), hoverinfo="skip"))
        traces.append(go.Scatter(x=[41.05, 42.95], y=[med, med], mode="lines", xaxis=xa, yaxis=ya, line=dict(color="#8B1A1A", width=1.4), hoverinfo="skip"))
        bx, by = [], []
        for a, b in band[c]:
            bx += [42, 42, None]; by += [a, b, None]
        traces.append(go.Scatter(x=bx, y=by, mode="lines", xaxis=xa, yaxis=ya, line=dict(color="#8E1B1B", width=2.4), hoverinfo="skip"))
        traces.append(go.Scatter(x=[42]*len(redpts[c]), y=redpts[c], mode="markers", xaxis=xa, yaxis=ya, marker=dict(color="#A52020", size=3), hoverinfo="skip"))
        traces.append(go.Scatter(x=FIT_WEEKS, y=fits[c], mode="lines", xaxis=xa, yaxis=ya, line=dict(color="#1C30F0", width=2, shape="spline"), hoverinfo="skip"))
        rect(x0, strip_y, x1, strip_y+23, "#CBCBCB")
        text((x0+x1)/2, strip_y+11.5, D_FACETS[c], size=14.5, color="#222")

d_row(1294, 1499.5, [-.011, 1.049], D_SP_Q1, D_SP_MED, D_SP_Q3, D_SP_LO, D_SP_HI, D_SP_RED, D_SP_RED_BAND, D_SP_RED_PTS, D_SP_OUT, D_SP_FIT, 1271)
d_row(1615, 1819.5, [-.014, 1.012], D_PW_Q1, D_PW_MED, D_PW_Q3, D_PW_LO, D_PW_HI, D_PW_RED, D_PW_RED_BAND, D_PW_RED_PTS, D_PW_OUT, D_PW_FIT, 1592)
text(1130, 1397, "Species BC distance", size=17.5, color="#333", angle=-90)
text(1130, 1716, "Pathway BC distance", size=17.5, color="#333", angle=-90)
text(1546, 1533, "Time difference (weeks)", size=17.5, color="#222")
text(1546, 1853, "Time difference (weeks)", size=17.5, color="#222")
rect(1412, 1239, 1427, 1251, "#55A6E6")
rect(1540, 1239, 1555, 1251, "#E62A2A")
text(1437, 1245, "Same subject", size=15, color="#222", anchor="left")
text(1566, 1245, "Different subjects", size=15, color="#222", anchor="left")

# ---------------------------------------------------------------- panel A
for s, x, y in [("A", 112, 66), ("B", 114, 562), ("C", 1150, 569), ("D", 1146, 1223)]:
    text(x, y, s, size=43, color="#000", bold=True)

teal, orange_path, blue_path, stool_path = [], [], [], []

def trect(x0, y0, x1, y1):
    teal.append(f"M{x0},{y0}L{x1},{y0}L{x1},{y1}L{x0},{y1}Z")

def clip(cx, y0, y1, food):
    h = y1-y0
    u = h/28
    bx0, bx1 = cx-14*u, cx+6*u
    px0, px1 = cx+9*u, cx+14*u
    xm = (bx0+bx1)/2
    p = f"M{bx0},{y0+3*u}L{bx1},{y0+3*u}L{bx1},{y1}L{bx0},{y1}Z"
    p += f"M{xm-5*u},{y0}L{xm+5*u},{y0}L{xm+5*u},{y0+5*u}L{xm-5*u},{y0+5*u}Z"
    p += f"M{px0},{y0+3*u}L{px1},{y0+3*u}L{px1},{y1-5*u}L{(px0+px1)/2},{y1}L{px0},{y1-5*u}Z"
    if food:
        p += f"M{xm-4*u},{y0+9*u}L{xm-4*u},{y1-4*u}M{xm+4*u},{y0+9*u}L{xm+4*u},{y1-4*u}"
        p += f"M{xm-6*u},{y0+9*u}L{xm-6*u},{y0+14*u}L{xm-2*u},{y0+14*u}L{xm-2*u},{y0+9*u}"
        p += f"M{xm+3*u},{y0+10*u}L{xm+5*u},{y0+10*u}L{xm+5*u},{y0+15*u}L{xm+3*u},{y0+15*u}Z"
        orange_path.append(p)
    else:
        for k in range(5):
            yy = y0+(9+3*k)*u
            p += f"M{bx0+4*u},{yy}L{bx1-4*u},{yy}"
        blue_path.append(p)

def stool(x0, y0, x1, y1):
    w, h = x1-x0, y1-y0
    c = (x0+x1)/2
    stool_path.append(f"M{x0+.08*w},{y1}Q{x0-.03*w},{y1-.2*h} {x0+.2*w},{y1-.55*h}Q{c-.08*w},{y0+.25*h} {c-.2*w},{y0}"
                      f"Q{c+.18*w},{y0+.12*h} {x1-.22*w},{y1-.6*h}Q{x1+.03*w},{y1-.2*h} {x1-.08*w},{y1}Z")

def banner(x0, x1, y0, y1, s):
    rect(x0, y0, x1, y1, TEAL)
    text((x0+x1)/2, (y0+y1)/2, s, size=23.2, color="#FFFFFF", bold=True)

banner(147, 1880, 45, 77, "Nurses\u2019 Health Study (NHS) II")
banner(594, 1027, 82, 111, "Mind-Body Study (MBS)")
banner(1278, 1819, 82, 111, "Microbiome among Women\u2019s Study (Micro-N)")
banner(146, 1173, 267, 299, "Health Professional Follow-up Study (HPFS)")
banner(561, 1039, 304, 336, "Men\u2019s Lifestyle Validation Study (MLVS)")
banner(1316, 1791, 267, 299, "Human Microbiome Project 2 (HMP2)")

def years(yy, cy, labels, xs):
    for s, x in zip(labels, xs):
        text(x, yy, s, size=20, color="#222")
        trect(x-3, cy-15, x+3, cy-5)

def orange_n(x, y, s, anchor="left"):
    text(x, y, s, size=20.5, color=ORANGE_TXT, bold=True, anchor=anchor)

def study_block(y_c, xs):
    # stool, questionnaire pair, stool, segment, stool, questionnaire pair, stool
    top, bot = y_c-12, y_c+15
    stool(673, top, 696, bot); clip(718.5, top, bot, True); clip(753.5, top, bot, False); stool(774, top, 798, bot)
    stool(889, top, 912, bot); clip(934, top, bot, True); clip(968.5, top, bot, False); stool(990, top, 1013, bot)
    trect(660, y_c-15, 670, y_c+14)
    trect(801, y_c-15, 810, y_c+14); trect(810, y_c-5, 876, y_c+6); trect(876, y_c-15, 885, y_c+14)
    trect(1016, y_c-15, 1027, y_c+14)
    for s, x in zip(["24-72 hrs", "6 months", "24-72 hrs"], [730, 842, 953]):
        text(x, y_c-27, s, size=20, color="#222")

# timeline 1
Y1 = 192
for a, b in [(310, 415), (422, 436), (444, 458), (465, 479), (485, 594), (1027, 1279)]:
    trect(a, Y1-5.5, b, Y1+5.5)
years(165, Y1, ["1989", "1991", "2011", "2013", "2015", "2017", "2019"], [327, 392, 500, 565, 1115, 1187, 1258])
for x in [395, 505, 1119, 1262, 1857]:
    clip(x, 123, 151, True)
for x in [328, 394, 502, 568, 1119, 1190, 1262, 1856]:
    clip(x, 202, 230, False)
orange_n(296, Y1, "N=116,429", "right"); orange_n(596, Y1, "N=213"); orange_n(1280, Y1, "N=18,412"); orange_n(1636, Y1, "N=90")
study_block(Y1, None)
trect(1371.5, 177, 1382, 206)
stool(1385, 180, 1409, 207); clip(1432, 179, 207, True); clip(1470.5, 179, 207, False)
trect(1491, 177, 1502, 206); trect(1502, Y1-5.5, 1633, Y1+5.5)
text(1564, 169, "3 years", size=20, color="#222")
trect(1689, 177, 1699, 206)
stool(1702, 180, 1725, 207); clip(1748.5, 179, 207, True); clip(1787, 179, 207, False)
trect(1808, 177, 1819, 206); trect(1819, Y1-5.5, 1871, Y1+5.5)
teal.append(f"M1871,{Y1-12}L1880,{Y1}L1871,{Y1+12}Z")
text(1856, 165, "2023", size=20, color="#222"); trect(1853, 177, 1859, 187)

# timeline 2
Y2 = 417
for a, b in [(274, 380), (388, 401), (414, 429), (437, 594), (1027, 1165)]:
    trect(a, Y2-5.5, b, Y2+5.5)
years(385, Y2, ["1986", "1988", "2010", "2012", "2014"], [292, 358, 484, 549, 1085])
for x in [297, 487.5, 1085]:
    clip(x, 338, 367, True)
for x in [298, 363, 484.5, 550, 1086]:
    clip(x, 431, 460, False)
orange_n(262, Y2, "N=51,529", "right"); orange_n(596, Y2, "N=307")
study_block(Y2, None)
teal.append(f"M1165,{Y2-12}L1175,{Y2}L1165,{Y2+12}Z")

# timeline 3 (HMP2)
HMP_WEEKS = ["0", "2", "4", "16", "18", "20", "52"]
HMP_X = [1328, 1355, 1383, 1534, 1565, 1594, 1783]
for a, b in [(1294, 1406), (1434, 1444), (1458, 1470), (1482, 1630), (1654, 1664), (1676, 1690), (1703, 1790)]:
    trect(a, Y2-2.5, b, Y2+2.5)
teal.append(f"M1790,{Y2-7}L1798,{Y2}L1790,{Y2+7}Z")
for s, x in zip(HMP_WEEKS, HMP_X):
    text(x, 390, s, size=20, color="#222")
    trect(x-2, Y2-9, x+2, Y2)
    stool(x-10, 355, x+10, 375)
    clip(x, 440, 461, True)
orange_n(1251, Y2, "N=130", "center")
text(1806, Y2, "week", size=20, color="#222", anchor="left")

shapes.append(dict(type="path", xref="x", yref="y", path="".join(teal), fillcolor=TEAL, line=dict(width=0), layer="below"))
shapes.append(dict(type="path", xref="x", yref="y", path="".join(orange_path), line=dict(color=ICON_OR, width=1.4), layer="below"))
shapes.append(dict(type="path", xref="x", yref="y", path="".join(blue_path), line=dict(color=ICON_BL, width=1.4), layer="below"))
shapes.append(dict(type="path", xref="x", yref="y", path="".join(stool_path), fillcolor="#000000", line=dict(width=0), layer="below"))

# ---------------------------------------------------------------- caption (justified)
REG = {" ":278,"(":333,")":333,",":278,"-":333,".":278,":":278,"\u00b2":333,"A":667,"B":667,"C":722,"D":722,"E":667,"F":611,"G":778,"H":722,"I":278,"J":500,"K":667,"L":556,"M":833,"N":722,"O":778,"P":667,"Q":778,"R":722,"S":667,"T":611,"U":722,"V":667,"W":944,"X":667,"Y":667,"Z":611,
       "a":556,"b":556,"c":500,"d":556,"e":556,"f":278,"g":556,"h":556,"i":222,"j":222,"k":500,"l":222,"m":833,"n":556,"o":556,"p":556,"q":556,"r":333,"s":500,"t":278,"u":556,"v":500,"w":722,"x":500,"y":500,"z":500}
BLD = {" ":278,"(":333,")":333,",":278,"-":333,".":278,":":333,"A":722,"B":722,"C":722,"D":722,"E":667,"F":611,"G":778,"H":722,"I":278,"J":556,"K":722,"L":611,"M":833,"N":722,"O":778,"P":667,"Q":778,"R":722,"S":667,"T":611,"U":722,"V":667,"W":944,"X":667,"Y":667,"Z":611,
       "a":556,"b":611,"c":556,"d":611,"e":556,"f":333,"g":611,"h":611,"i":278,"j":278,"k":556,"l":278,"m":889,"n":611,"o":611,"p":611,"q":611,"r":389,"s":556,"t":333,"u":611,"v":556,"w":778,"x":556,"y":556,"z":500}
CAP_SIZE = 39.5

def seg_w(t, st):
    tab = BLD if st == "b" else REG
    return sum(tab.get(ch, 556) for ch in t)/1000*CAP_SIZE

for i, line in enumerate(CAPTION):
    natural = sum(seg_w(t, st) for t, st in line)
    spaces = sum(t.count(" ") for t, st in line)
    extra = 0 if i == len(CAPTION)-1 else (1926-natural)/max(spaces, 1)
    html = ""
    for t, st in line:
        html += {"b": f"<b>{t}</b>", "n": t, "i": f"<i>{t}</i>"}[st]
    text(44, 1917+i*46.07, f'<span style="word-spacing:{extra:.2f}px">{html}</span>', size=CAP_SIZE, color="#000", anchor="left", align="left")

# ---------------------------------------------------------------- figure
traces.insert(0, go.Scatter(x=[0], y=[0], mode="markers", marker=dict(size=1, opacity=0), xaxis="x", yaxis="y", hoverinfo="skip"))
fig = go.Figure(traces)
fig.update_layout(width=W, height=H, autosize=False, margin=dict(l=0, r=0, t=0, b=0, pad=0, autoexpand=False), showlegend=False,
                  paper_bgcolor="#FFFFFF", plot_bgcolor="rgba(0,0,0,0)", annotations=annos, shapes=shapes,
                  xaxis=dict(domain=[0, 1], range=[0, W], visible=False, fixedrange=True),
                  yaxis=dict(domain=[0, 1], range=[H, 0], visible=False, fixedrange=True), **axes)
fig.write_html("out.html", config={"displayModeBar": False}, post_script="document.body.style.margin='0';")
